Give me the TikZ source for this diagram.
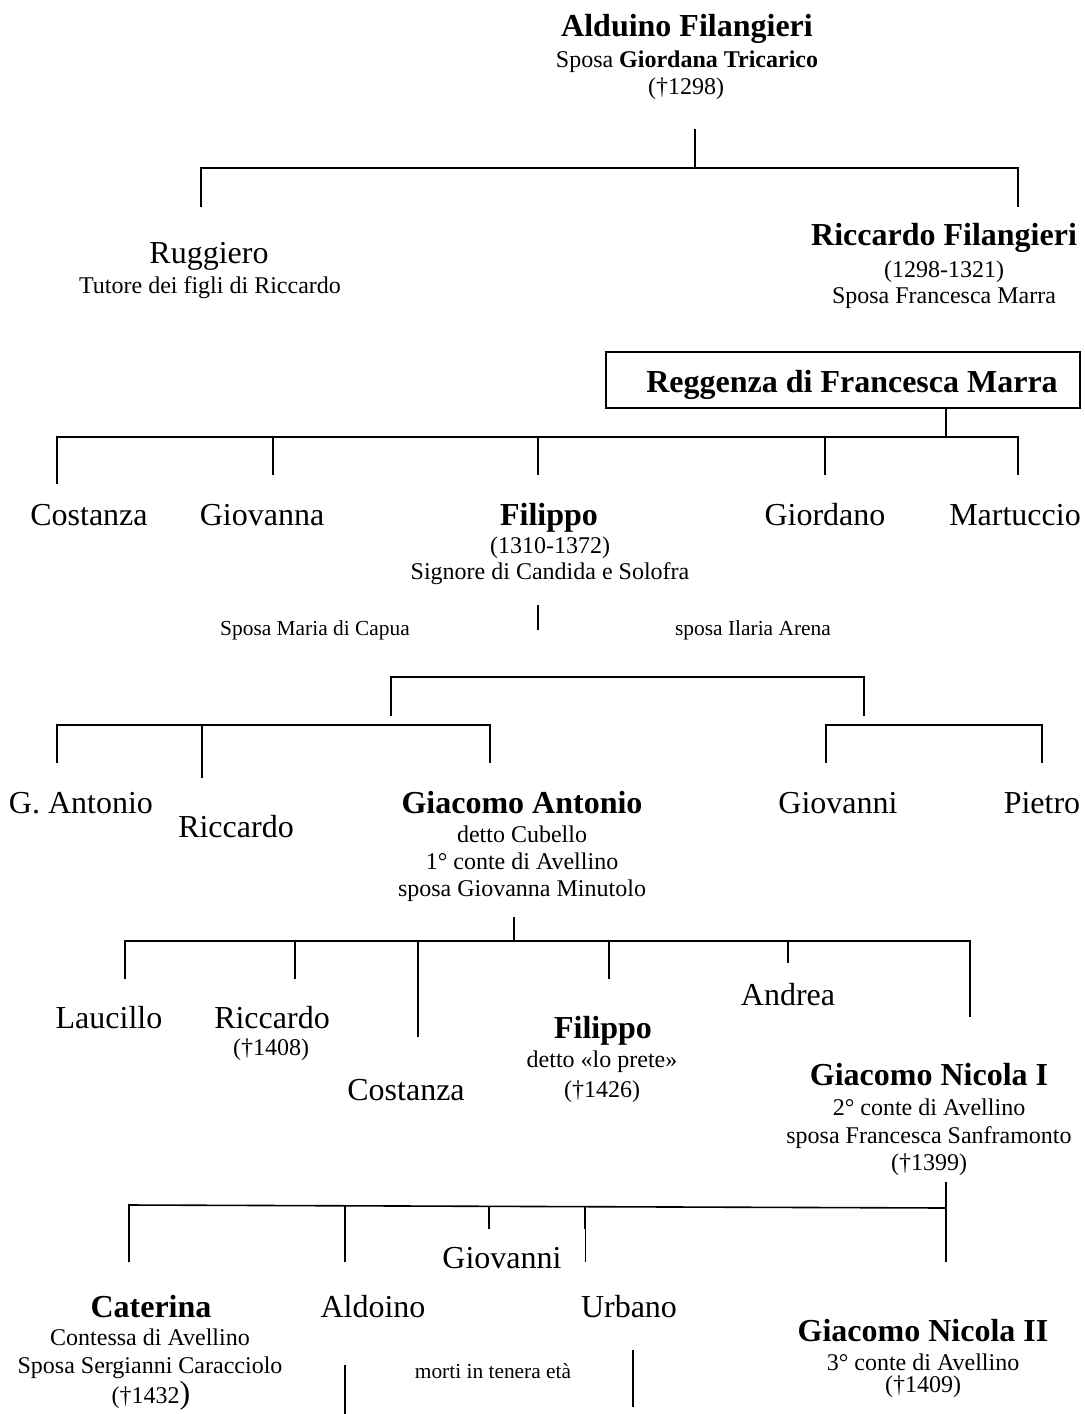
\documentclass[tikz,border=0pt]{standalone}
\usepackage{fontspec}
\setmainfont{Liberation Serif}
\usepackage{tikz}
\tikzstyle{member} = [anchor=base, inner sep=0pt, text=black, font=\fontsize{16}{19}\selectfont]
\tikzstyle{memberbold} = [member, font=\fontsize{16}{19}\selectfont\bfseries]
\tikzstyle{detail} = [anchor=base, inner sep=0pt, text=black, font=\fontsize{12}{14}\selectfont]
\tikzstyle{note} = [anchor=base, inner sep=0pt, text=black, font=\fontsize{10.7}{13}\selectfont]
\tikzstyle{regbox} = [rectangle, draw=black, line width=0.75pt, minimum width=237pt, minimum height=28pt, inner sep=0pt]
\tikzstyle{link} = [line width=0.8pt, black]

\begin{document}
\begin{tikzpicture}[x=0.5pt, y=-0.5pt]
    \useasboundingbox (0,0) rectangle (1085,1414);

    % first generation nodes
    \node[memberbold] (alduino) at (687,36) {Alduino Filangieri};
    \node[detail] (alduino_wife) at (687,67) {Sposa \textbf{Giordana Tricarico}};
    \node[detail] (alduino_death) at (686,94) {(†1298)};

    \node[member] (ruggiero) at (209,263) {Ruggiero};
    \node[detail] (ruggiero_note) at (210,293) {Tutore dei figli di Riccardo};
    \node[memberbold] (riccardo_f) at (944,245) {Riccardo Filangieri};
    \node[detail] (riccardo_f_dates) at (944,277) {(1298-1321)};
    \node[detail] (riccardo_f_wife) at (944,303) {Sposa Francesca Marra};

    \node[regbox] (reggenza_box) at (843,380) {};
    \node[memberbold] (reggenza) at (852,392) {Reggenza di Francesca Marra};

    % second generation nodes
    \node[member] (costanza) at (89,525) {Costanza};
    \node[member] (giovanna) at (262,525) {Giovanna};
    \node[memberbold] (filippo) at (549,525) {Filippo};
    \node[detail] (filippo_dates) at (550,553) {(1310-1372)};
    \node[detail] (filippo_title) at (550,579) {Signore di Candida e Solofra};
    \node[member] (giordano) at (825,525) {Giordano};
    \node[member] (martuccio) at (1015,525) {Martuccio};

    \node[note] (maria) at (315,635) {Sposa Maria di Capua};
    \node[note] (ilaria) at (753,635) {sposa Ilaria Arena};

    % third generation nodes
    \node[member] (gantonio) at (81,813) {G. Antonio};
    \node[member] (riccardo) at (236,837) {Riccardo};
    \node[memberbold] (giacomo_a) at (522,813) {Giacomo Antonio};
    \node[detail] (giacomo_a_nick) at (522,842) {detto Cubello};
    \node[detail] (giacomo_a_title) at (522,869) {1° conte di Avellino};
    \node[detail] (giacomo_a_wife) at (522,896) {sposa Giovanna Minutolo};
    \node[member] (giovanni) at (838,813) {Giovanni};
    \node[member] (pietro) at (1042,813) {Pietro};

    % fourth generation nodes
    \node[member] (laucillo) at (109,1028) {Laucillo};
    \node[member] (riccardo_b) at (272,1028) {Riccardo};
    \node[detail] (riccardo_b_death) at (271,1055) {(†1408)};
    \node[member] (costanza_b) at (406,1100) {Costanza};
    \node[memberbold] (filippo_b) at (603,1038) {Filippo};
    \node[detail] (filippo_b_nick) at (602,1067) {detto «lo prete»};
    \node[detail] (filippo_b_death) at (602,1097) {(†1426)};
    \node[member] (andrea) at (788,1005) {Andrea};
    \node[memberbold] (giacomo_n) at (929,1085) {Giacomo Nicola I};
    \node[detail] (giacomo_n_title) at (929,1115) {2° conte di Avellino};
    \node[detail] (giacomo_n_wife) at (929,1143) {sposa Francesca Sanframonto};
    \node[detail] (giacomo_n_death) at (929,1170) {(†1399)};

    % fifth generation nodes
    \node[member] (giovanni_b) at (502,1268) {Giovanni};
    \node[memberbold] (caterina) at (151,1317) {Caterina};
    \node[detail] (caterina_title) at (150,1345) {Contessa di Avellino};
    \node[detail] (caterina_wife) at (150,1373) {Sposa Sergianni Caracciolo};
    \node[detail] (caterina_death) at (151,1403) {(†1432{\fontsize{16}{19}\selectfont)}};
    \node[member] (aldoino) at (373,1317) {Aldoino};
    \node[member] (urbano) at (629,1317) {Urbano};
    \node[memberbold] (giacomo_n2) at (923,1341) {Giacomo Nicola II};
    \node[detail] (giacomo_n2_title) at (923,1370) {3° conte di Avellino};
    \node[detail] (giacomo_n2_death) at (923,1392) {(†1409)};
    \node[note] (morti) at (493,1378) {morti in tenera età};

    % lines of first generation
    \coordinate (alduino_stem) at (695,129);
    \coordinate (bar_a) at (695,168);
    \coordinate (ruggiero_drop) at (201,207);
    \coordinate (riccardo_f_drop) at (1018,207);
    \draw[link] (alduino_stem) to (bar_a);
    \draw[link] (ruggiero_drop) |- (bar_a) -| (riccardo_f_drop);

    % lines of second generation
    \coordinate (reggenza_stem) at (946,408);
    \coordinate (bar_b) at (946,437);
    \coordinate (costanza_drop) at (57,484);
    \coordinate (giovanna_drop) at (273,475);
    \coordinate (filippo_drop) at (538,475);
    \coordinate (giordano_drop) at (825,475);
    \coordinate (martuccio_drop) at (1018,475);
    \draw[link] (reggenza_stem) to (bar_b);
    \draw[link] (costanza_drop) |- (bar_b) -| (martuccio_drop);
    \foreach \d in {giovanna_drop, filippo_drop, giordano_drop}
        \draw[link] (\d) to (\d |- bar_b);

    \coordinate (filippo_stem_top) at (538,605);
    \coordinate (filippo_stem_end) at (538,630);
    \draw[link] (filippo_stem_top) to (filippo_stem_end);

    \coordinate (bar_c) at (628,677);
    \coordinate (maria_drop) at (391,716);
    \coordinate (ilaria_drop) at (864,716);
    \draw[link] (maria_drop) |- (bar_c) -| (ilaria_drop);

    % lines of third generation
    \coordinate (bar_d) at (300,725);
    \coordinate (gantonio_drop) at (57,763);
    \coordinate (riccardo_drop) at (202,778);
    \coordinate (giacomo_a_drop) at (490,763);
    \draw[link] (gantonio_drop) |- (bar_d) -| (giacomo_a_drop);
    \draw[link] (riccardo_drop) to (riccardo_drop |- bar_d);

    \coordinate (bar_e) at (934,725);
    \coordinate (giovanni_drop) at (826,763);
    \coordinate (pietro_drop) at (1042,763);
    \draw[link] (giovanni_drop) |- (bar_e) -| (pietro_drop);

    % lines of fourth generation
    \coordinate (giacomo_a_stem) at (514,917);
    \coordinate (bar_f) at (514,941);
    \coordinate (laucillo_drop) at (125,979);
    \coordinate (riccardo_b_drop) at (295,979);
    \coordinate (costanza_b_drop) at (418,1037);
    \coordinate (filippo_b_drop) at (609,979);
    \coordinate (andrea_drop) at (788,963);
    \coordinate (giacomo_n_drop) at (970,1017);
    \draw[link] (giacomo_a_stem) to (bar_f);
    \draw[link] (laucillo_drop) |- (bar_f) -| (giacomo_n_drop);
    \foreach \d in {riccardo_b_drop, costanza_b_drop, filippo_b_drop, andrea_drop}
        \draw[link] (\d) to (\d |- bar_f);

    % lines of fifth generation
    \coordinate (giacomo_n_stem) at (946,1182);
    \coordinate (bar_g_left) at (129,1205);
    \coordinate (bar_g_right) at (946,1208);
    \coordinate (bar_g) at (500,1206);
    \coordinate (caterina_drop) at (129,1262);
    \coordinate (aldoino_drop) at (345,1262);
    \coordinate (giovanni_b_drop) at (489,1229);
    \coordinate (urbano_mid) at (585,1229);
    \coordinate (urbano_drop) at (585,1262);
    \coordinate (giacomo_n2_drop) at (946,1262);
    \draw[link] (giacomo_n_stem) to (giacomo_n2_drop);
    \draw[link] (caterina_drop) -- (bar_g_left) -- (bar_g_right);
    \foreach \d in {aldoino_drop, giovanni_b_drop, urbano_mid}
        \draw[link] (\d) to (\d |- bar_g);
    \draw[link, line width=0.4pt] (urbano_mid) to (urbano_drop);

    % marks beside the note
    \coordinate (morti_left_top) at (345,1365);
    \coordinate (morti_left_end) at (345,1414);
    \coordinate (morti_right_top) at (633,1350);
    \coordinate (morti_right_end) at (633,1407);
    \draw[link] (morti_left_top) to (morti_left_end);
    \draw[link] (morti_right_top) to (morti_right_end);
\end{tikzpicture}
\end{document}
